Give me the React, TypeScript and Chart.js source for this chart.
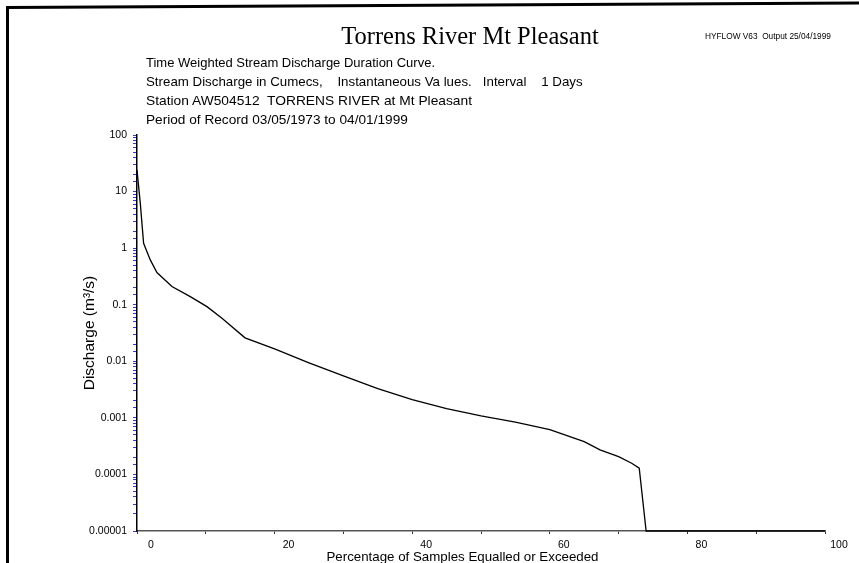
import React, { useEffect, useRef } from "react";
import { Chart, registerables } from "chart.js";

Chart.register(...registerables);

// Percentage of samples equalled or exceeded (x) and discharge in cumecs (y)
const percentExceeded = [
  0, 0.48, 0.96, 1.93, 2.9, 5.08, 7.74, 10.17, 12.35, 15.7, 20, 25, 30, 35, 40,
  45, 50, 55, 60, 65, 67.3, 70, 71.9, 73.0, 74.0, 80, 90, 100,
];
const dischargeCumecs = [
  24, 6.2, 1.22, 0.62, 0.37, 0.21, 0.139, 0.0925, 0.0575, 0.026, 0.0165, 0.0094,
  0.0055, 0.0033, 0.0021, 0.00145, 0.00108, 0.00084, 0.00062, 0.00038, 0.000272,
  0.000207, 0.000158, 0.000129, 0.00001, 0.00001, 0.00001, 0.00001,
];

const xLabelValues = [0, 20, 40, 60, 80, 100];
const yLabelValues = [100, 10, 1, 0.1, 0.01, 0.001, 0.0001, 0.00001];
const yLabelTexts = ["100", "10", "1", "0.1", "0.01", "0.001", "0.0001", "0.00001"];

const titleText = "Torrens River Mt Pleasant";
const noteText = "HYFLOW V63  Output 25/04/1999";
const headerLines = [
  "Time Weighted Stream Discharge Duration Curve.",
  "Stream Discharge in Cumecs,    Instantaneous Va lues.   Interval    1 Days",
  "Station AW504512  TORRENS RIVER at Mt Pleasant",
  "Period of Record 03/05/1973 to 04/01/1999",
];
const headerStretch = [1, 1.023, 1.06, 1.05];
const xTitle = "Percentage of Samples Equalled or Exceeded";
const yTitle = "Discharge (m\u00B3/s)";

const SANS = "'Liberation Sans', Arial, sans-serif";
const SERIF = "'Liberation Serif', 'Times New Roman', serif";

export default function App() {
  const ref = useRef<HTMLCanvasElement>(null);

  useEffect(() => {
    if (!ref.current) return;
    const chart = new Chart(ref.current, {
      type: "line",
      data: {
        datasets: [
          {
            data: percentExceeded.map((x, i) => ({ x, y: dischargeCumecs[i] })),
            borderColor: "#000",
            borderWidth: 1.3,
            pointRadius: 0,
            tension: 0,
            fill: false,
            clip: 4,
          } as any,
        ],
      },
      options: {
        animation: false,
        responsive: false,
        maintainAspectRatio: false,
        layout: { padding: { left: 0, top: 135, right: 34, bottom: 0 } },
        plugins: {
          legend: { display: false },
          tooltip: { enabled: false },
          title: { display: false },
        },
        scales: {
          x: {
            type: "linear",
            position: "bottom",
            min: 0,
            max: 100,
            border: { display: true, color: "#555", width: 1.5 },
            grid: { drawOnChartArea: false, drawTicks: true, tickLength: 3, color: "#333" },
            ticks: {
              stepSize: 10,
              autoSkip: false,
              maxRotation: 0,
              labelOffset: 14,
              padding: 5,
              color: "#000",
              font: { family: SANS, size: 10.5 },
              callback: (v: any) => {
                const n = Number(v);
                const idx = xLabelValues.findIndex((t) => Math.abs(t - n) < 1e-6);
                return idx >= 0 ? String(xLabelValues[idx]) : "";
              },
            },
            afterFit: (s: any) => {
              s.height = 32;
            },
          },
          y: {
            type: "logarithmic",
            position: "left",
            min: 1e-5,
            max: 100,
            border: { display: true, color: "#000", width: 1.5 },
            grid: { drawOnChartArea: false, drawTicks: true, tickLength: 4, color: "#2a3be0" },
            ticks: {
              autoSkip: false,
              padding: 6,
              color: "#000",
              font: { family: SANS, size: 10.5 },
              callback: (v: any) => {
                const n = Number(v);
                const idx = yLabelValues.findIndex((t) => Math.abs(Math.log10(t) - Math.log10(n)) < 1e-6);
                return idx >= 0 ? yLabelTexts[idx] : "";
              },
            },
            title: {
              display: true,
              text: yTitle,
              color: "#000",
              font: { family: SANS, size: 15.5 },
              padding: { top: 80, bottom: 0 },
            },
            afterFit: (s: any) => {
              s.width = 137;
            },
          },
        },
      },
    });
    return () => chart.destroy();
  }, []);

  return (
    <div
      style={{
        position: "fixed",
        left: 0,
        top: 0,
        width: 859,
        height: 563,
        background: "#fff",
        overflow: "hidden",
      }}
    >
      <canvas ref={ref} width={859} height={563} style={{ position: "absolute", left: 0, top: 0, width: 859, height: 563 }} />
      {/* frame */}
      <div style={{ position: "absolute", left: 6, top: 6, width: 3, height: 600, background: "#000" }} />
      <div
        style={{
          position: "absolute",
          left: 6,
          top: 6,
          width: 880,
          height: 3,
          background: "#000",
          transformOrigin: "0 0",
          transform: "rotate(-0.3deg)",
        }}
      />
      <div
        style={{
          position: "absolute",
          left: 0,
          width: 940,
          top: 22,
          textAlign: "center",
          fontFamily: SERIF,
          fontSize: 24.5,
          lineHeight: "27px",
          color: "#000",
          whiteSpace: "pre",
        }}
      >
        {titleText}
      </div>
      <div
        style={{
          position: "absolute",
          left: 705,
          top: 31,
          fontFamily: SANS,
          fontSize: 8.3,
          lineHeight: "11px",
          color: "#000",
          whiteSpace: "pre",
        }}
      >
        {noteText}
      </div>
      <div
        style={{
          position: "absolute",
          left: 146,
          top: 53,
          fontFamily: SANS,
          fontSize: 13,
          lineHeight: "19px",
          color: "#000",
          whiteSpace: "pre",
        }}
      >
        {headerLines.map((l, i) => (
          <div
            key={i}
            style={{ transformOrigin: "0 50%", transform: `scaleX(${headerStretch[i]})` }}
          >
            {l}
          </div>
        ))}
      </div>
      <div
        style={{
          position: "absolute",
          left: 0,
          width: 925,
          top: 548.5,
          textAlign: "center",
          fontFamily: SANS,
          fontSize: 13.3,
          lineHeight: "15px",
          color: "#000",
          whiteSpace: "pre",
        }}
      >
        {xTitle}
      </div>
    </div>
  );
}
